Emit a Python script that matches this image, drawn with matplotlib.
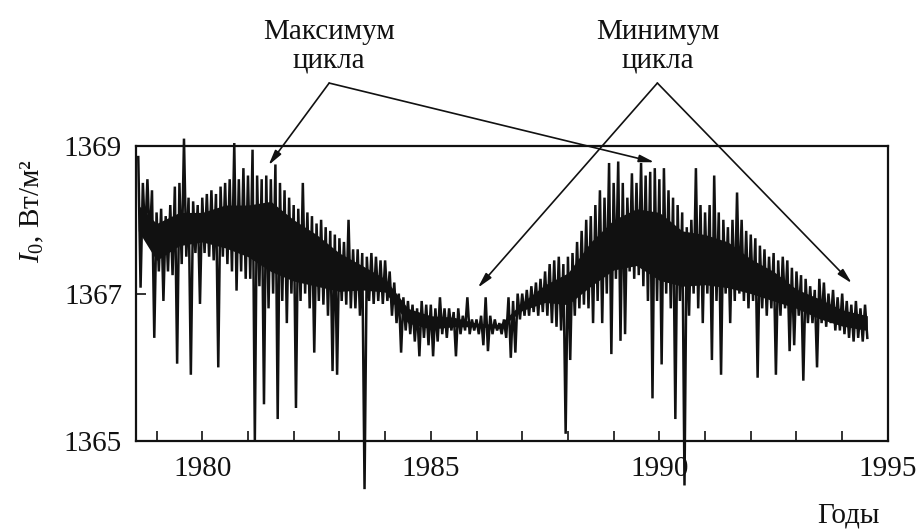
import matplotlib

matplotlib.use("Agg")
import matplotlib.pyplot as plt
import numpy as np

plt.rcParams["font.family"] = ["Liberation Serif", "DejaVu Serif"]
plt.rcParams["mathtext.fontset"] = "custom"
plt.rcParams["mathtext.rm"] = "Liberation Serif"
plt.rcParams["mathtext.it"] = "Liberation Serif:italic"

# --- data: 0.1-yr steps from 1978.6, upper and lower excursions ---
START_YEAR = 1978.6
STEP = 0.1
hi = [
    1368.85, 1368.50, 1368.55, 1368.40,                                          # 1978.6-
    1368.10, 1368.15, 1368.05, 1368.20, 1368.45, 1368.50, 1369.10, 1368.30, 1368.25, 1368.20,  # 1979
    1368.30, 1368.35, 1368.40, 1368.35, 1368.45, 1368.50, 1368.55, 1369.04, 1368.55, 1368.70,  # 1980
    1368.60, 1368.95, 1368.60, 1368.55, 1368.60, 1368.55, 1368.75, 1368.50, 1368.40, 1368.30,  # 1981
    1368.20, 1368.15, 1368.50, 1368.10, 1368.05, 1367.95, 1368.00, 1367.90, 1367.85, 1367.80,  # 1982
    1367.75, 1367.70, 1368.00, 1367.60, 1367.60, 1367.55, 1367.50, 1367.55, 1367.50, 1367.45,  # 1983
    1367.45, 1367.30, 1367.15, 1367.00, 1366.95, 1366.90, 1366.85, 1366.80, 1366.90, 1366.85,  # 1984
    1366.85, 1366.80, 1366.95, 1366.80, 1366.80, 1366.75, 1366.80, 1366.70, 1366.95, 1366.65,  # 1985
    1366.65, 1366.70, 1366.95, 1366.70, 1366.65, 1366.60, 1366.65, 1366.95, 1366.90, 1367.00,  # 1986
    1367.00, 1367.05, 1367.10, 1367.15, 1367.20, 1367.30, 1367.40, 1367.45, 1367.50, 1367.40,  # 1987
    1367.50, 1367.55, 1367.70, 1367.85, 1368.00, 1368.05, 1368.20, 1368.40, 1368.30, 1368.77,  # 1988
    1368.50, 1368.79, 1368.50, 1368.30, 1368.63, 1368.50, 1368.77, 1368.60, 1368.65, 1368.70,  # 1989
    1368.55, 1368.70, 1368.40, 1368.30, 1368.20, 1368.10, 1367.90, 1368.00, 1368.70, 1368.20,  # 1990
    1368.10, 1368.20, 1368.60, 1368.10, 1368.00, 1367.90, 1368.00, 1368.37, 1368.00, 1367.85,  # 1991
    1367.80, 1367.75, 1367.65, 1367.60, 1367.50, 1367.55, 1367.45, 1367.50, 1367.45, 1367.35,  # 1992
    1367.30, 1367.25, 1367.20, 1367.10, 1367.05, 1367.20, 1367.15, 1367.00, 1367.05, 1366.95,  # 1993
    1367.00, 1366.90, 1366.85, 1366.90, 1366.80, 1366.85,                        # 1994
]
lo = [
    1367.08, 1367.75, 1367.70, 1366.40,
    1367.30, 1366.90, 1367.30, 1367.25, 1366.05, 1367.40, 1367.50, 1365.90, 1367.55, 1366.86,
    1367.55, 1367.50, 1367.45, 1366.00, 1367.50, 1367.40, 1367.30, 1367.04, 1367.30, 1367.20,
    1367.20, 1365.00, 1367.10, 1365.50, 1366.80, 1367.00, 1365.30, 1366.90, 1366.60, 1367.00,
    1365.45, 1366.90, 1367.00, 1366.80, 1366.20, 1366.90, 1366.85, 1366.70, 1365.95, 1365.90,
    1366.90, 1366.85, 1366.80, 1366.80, 1366.70, 1364.35, 1366.90, 1366.86, 1366.90, 1366.86,
    1366.90, 1366.70, 1366.60, 1366.20, 1366.50, 1366.45, 1366.35, 1366.15, 1366.40, 1366.30,
    1366.15, 1366.35, 1366.45, 1366.40, 1366.50, 1366.15, 1366.45, 1366.50, 1366.45, 1366.50,
    1366.45, 1366.30, 1366.22, 1366.45, 1366.50, 1366.45, 1366.40, 1366.13, 1366.20, 1366.65,
    1366.70, 1366.70, 1366.75, 1366.70, 1366.75, 1366.70, 1366.60, 1366.55, 1366.50, 1365.10,
    1366.10, 1366.70, 1366.80, 1366.85, 1366.80, 1366.60, 1366.90, 1366.60, 1367.00, 1366.18,
    1367.20, 1366.36, 1366.45, 1367.30, 1367.20, 1367.25, 1367.10, 1366.90, 1365.58, 1366.90,
    1366.04, 1367.00, 1366.80, 1365.30, 1366.90, 1364.40, 1366.70, 1367.00, 1366.80, 1366.60,
    1367.00, 1366.10, 1366.90, 1365.90, 1367.00, 1366.60, 1366.90, 1367.00, 1366.90, 1366.80,
    1366.90, 1365.86, 1366.80, 1366.70, 1366.80, 1365.90, 1366.70, 1366.80, 1366.22, 1366.30,
    1366.70, 1365.82, 1366.60, 1366.60, 1366.00, 1366.60, 1366.55, 1366.60, 1366.50, 1366.50,
    1366.45, 1366.40, 1366.35, 1366.40, 1366.35, 1366.40,
]
assert len(hi) == len(lo)

# solid core of the trace (where the daily values overlap), every half year
core_years = [1978.6, 1979.0, 1979.5, 1980.0, 1980.5, 1981.0, 1981.5, 1982.0, 1982.5,
              1983.0, 1983.5, 1984.0, 1984.5, 1985.0, 1985.5, 1986.0, 1986.5, 1987.0,
              1987.5, 1988.0, 1988.5, 1989.0, 1989.5, 1990.0, 1990.5, 1991.0, 1991.5,
              1992.0, 1992.5, 1993.0, 1993.5, 1994.0, 1994.55]
core_top = [1368.20, 1367.95, 1368.10, 1368.10, 1368.20, 1368.20, 1368.25, 1368.00, 1367.80,
            1367.55, 1367.38, 1367.20, 1366.80, 1366.70, 1366.68, 1366.60, 1366.58, 1366.88,
            1367.12, 1367.28, 1367.70, 1368.00, 1368.15, 1368.10, 1367.85, 1367.80, 1367.70,
            1367.47, 1367.30, 1367.06, 1366.93, 1366.78, 1366.70]
core_bot = [1367.85, 1367.45, 1367.65, 1367.70, 1367.62, 1367.50, 1367.30, 1367.17, 1367.10,
            1367.03, 1367.05, 1367.02, 1366.60, 1366.52, 1366.55, 1366.55, 1366.53, 1366.77,
            1366.88, 1366.85, 1367.10, 1367.32, 1367.38, 1367.18, 1367.10, 1367.12, 1367.08,
            1367.00, 1366.90, 1366.80, 1366.66, 1366.56, 1366.50]

# arrow targets (year, W/m2)
max_targets = [(1981.45, 1368.74), (1989.89, 1368.78)]
min_targets = [(1986.03, 1367.08), (1994.21, 1367.14)]

x_ticks = [1980, 1985, 1990, 1995]
y_ticks = [1365, 1367, 1369]

# zig-zag the two excursion lists into one trace
t = START_YEAR + STEP * np.arange(len(hi))
x = np.empty(2 * len(hi))
y = np.empty(2 * len(hi))
x[0::2], x[1::2] = t, t + STEP / 2
y[0::2], y[1::2] = hi, lo

INK = "#111111"
fig = plt.figure(figsize=(9.22, 5.29), dpi=100)
ax = fig.add_axes([0.1475, 0.166, 0.8155, 0.558])
ax.fill_between(core_years, core_bot, core_top, color=INK, lw=0)
ax.plot(x, y, color=INK, lw=1.8, clip_on=False, solid_joinstyle="miter")

ax.set_xlim(1978.55, 1995.0)
ax.set_ylim(1365, 1369)
ax.set_xticks(x_ticks)
ax.set_xticks(np.arange(1979, 1995), minor=True)
ax.set_yticks(y_ticks)
ax.tick_params(axis="both", which="both", direction="in", top=False, right=False,
               labelsize=21, color=INK, labelcolor=INK)
ax.tick_params(axis="x", which="both", length=7, width=1.2, pad=11)
ax.tick_params(axis="y", length=7, width=1.2, pad=10)
for sp in ax.spines.values():
    sp.set_linewidth(1.6)
    sp.set_color(INK)

ax.set_ylabel(r"$I_0$, Вт/м²", fontsize=21, color=INK, labelpad=4)
ax.yaxis.set_label_coords(-0.12, 0.78)
fig.text(0.92, 0.026, "Годы", fontsize=21, color=INK, ha="center", va="center")

# annotations
labels = [("Максимум\nцикла", 0.357, max_targets), ("Минимум\nцикла", 0.713, min_targets)]
for text, xf, targets in labels:
    fig.text(xf, 0.913, text, fontsize=21, color=INK, ha="center", va="center",
             linespacing=1.1)
    for tx, ty in targets:
        ax.annotate("", xy=(tx, ty), xycoords="data",
                    xytext=(xf, 0.843), textcoords="figure fraction",
                    annotation_clip=False,
                    arrowprops=dict(arrowstyle="-|>,head_length=0.9,head_width=0.22",
                                    lw=1.2, color=INK, shrinkA=0, shrinkB=0))

fig.savefig("out.png", dpi=100)
